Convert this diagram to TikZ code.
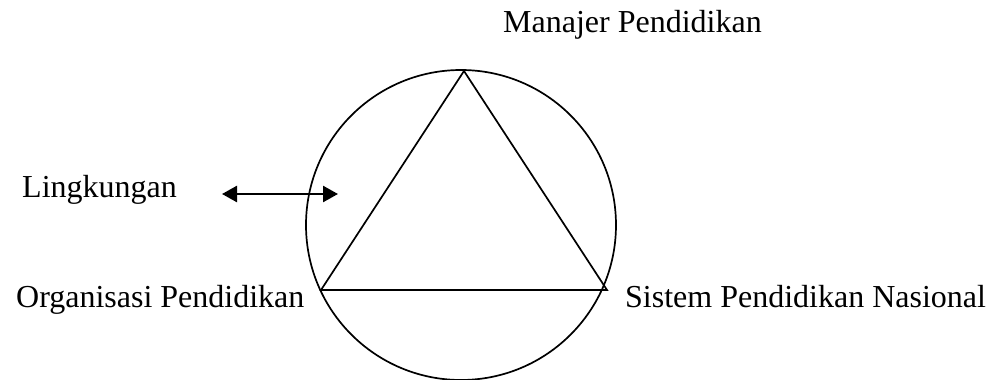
\documentclass[tikz,border=0pt]{standalone}
\usepackage{fontspec}
\setmainfont{Liberation Serif}
\usetikzlibrary{arrows.meta}
\begin{document}
\begin{tikzpicture}[x=1pt,y=-1pt,
  lbl/.style={anchor=base west,inner sep=0pt,font=\fontsize{32}{38}\selectfont},
  shape line/.style={line width=1.7pt},
  dbl/.style={line width=2.5pt,{Triangle[length=15pt,width=16pt]}-{Triangle[length=15pt,width=16pt]}}]
\useasboundingbox (0,0) rectangle (989,380);
\node[draw,circle,shape line,minimum size=310pt,inner sep=0pt] (env) at (461,225) {};
\coordinate (top) at (464,71);
\coordinate (bl) at (321,290);
\coordinate (br) at (607,290);
\draw[shape line,line join=miter] (top) -- (br) -- (bl) -- cycle;
\coordinate (al) at (222,194);
\coordinate (ar) at (338,194);
\draw[dbl] (al) -- (ar);
\node[lbl] (man) at (503,32) {Manajer Pendidikan};
\node[lbl] (lin) at (22,197) {Lingkungan};
\node[lbl] (org) at (16,307) {Organisasi Pendidikan};
\node[lbl] (sis) at (625,307) {Sistem Pendidikan Nasional};
\end{tikzpicture}
\end{document}
